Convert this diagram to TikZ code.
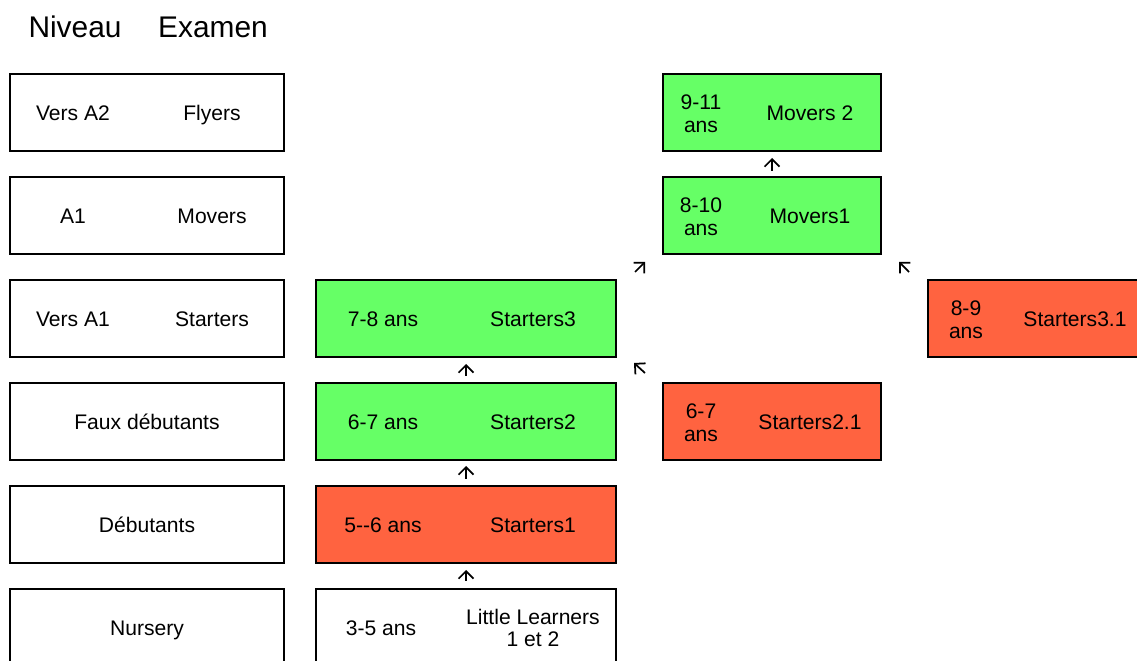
\documentclass[tikz,border=0pt]{standalone}
\usepackage{fontspec}
\setmainfont{Liberation Sans}
\usepackage{xcolor}
\usetikzlibrary{arrows.meta, calc}
\definecolor{vert}{RGB}{102,255,102}
\definecolor{rouge}{RGB}{255,99,64}

\begin{document}
\begin{tikzpicture}[x=0.2mm, y=-0.2mm,
  box/.style={draw, line width=0.4mm, inner sep=0pt, minimum height=15.4mm},
  lvl/.style={box, minimum width=54.8mm},
  grp/.style={box, minimum width=60mm},
  sub/.style={box, minimum width=43.6mm},
  txt/.style={anchor=base, align=center, font=\fontsize{12}{13}\selectfont},
  line/.style={-{Straight Barb[length=1.5mm, width=3mm]}, line width=0.35mm}]
\useasboundingbox (0,0) rectangle (1137,661);
\clip (0,0) rectangle (1137,661);
% titre
\node[txt, font=\fontsize{17}{20}\selectfont] (niv) at (75,37.5) {Niveau};
\node[txt, font=\fontsize{17}{20}\selectfont] (exa) at (213,37.5) {Examen};
% niveaux
\node[lvl] (fly) at (147,112.5) {};
\node[lvl] (mov) at (147,215.5) {};
\node[lvl] (sta) at (147,318.5) {};
\node[lvl] (faux) at (147,421.5) {};
\node[lvl] (deb) at (147,524.5) {};
\node[lvl] (nur) at (147,627.5) {};
\node[txt] (flyA) at (73,120.5) {Vers A2};
\node[txt] (flyB) at (212,120.5) {Flyers};
\node[txt] (movA) at (73,223.5) {A1};
\node[txt] (movB) at (212,223.5) {Movers};
\node[txt] (staA) at (73,326.5) {Vers A1};
\node[txt] (staB) at (212,326.5) {Starters};
\node[txt] (fauxA) at (147,429.5) {Faux débutants};
\node[txt] (debA) at (147,532.5) {Débutants};
\node[txt] (nurA) at (147,635.5) {Nursery};
% groupes
\node[grp, fill=vert] (s3) at (466,318.5) {};
\node[grp, fill=vert] (s2) at (466,421.5) {};
\node[grp, fill=rouge] (s1) at (466,524.5) {};
\node[grp] (ll) at (466,627.5) {};
\node[txt] (s3A) at (383,326.5) {7-8 ans};
\node[txt] (s3B) at (533,326.5) {Starters3};
\node[txt] (s2A) at (383,429.5) {6-7 ans};
\node[txt] (s2B) at (533,429.5) {Starters2};
\node[txt] (s1A) at (383,532.5) {5-{}-6 ans};
\node[txt] (s1B) at (533,532.5) {Starters1};
\node[txt] (llA) at (381,635.5) {3-5 ans};
\node[txt] (llB) at (533,647) {Little Learners\\1 et 2};
% suite
\node[sub, fill=vert] (m2) at (772,112.5) {};
\node[sub, fill=vert] (m1) at (772,215.5) {};
\node[sub, fill=rouge] (s21) at (772,421.5) {};
\node[sub, fill=rouge] (s31) at (1037,318.5) {};
\node[txt] (m2A) at (701,132.5) {9-11\\ans};
\node[txt] (m2B) at (810,120.5) {Movers 2};
\node[txt] (m1A) at (701,235.5) {8-10\\ans};
\node[txt] (m1B) at (810,223.5) {Movers1};
\node[txt] (s21A) at (701,441.5) {6-7\\ans};
\node[txt] (s21B) at (810,429.5) {Starters2.1};
\node[txt] (s31A) at (966,338.5) {8-9\\ans};
\node[txt] (s31B) at (1075,326.5) {Starters3.1};
% fleches
\draw[line, shorten <=1.4mm, shorten >=1.2mm] (ll) -- (s1);
\draw[line, shorten <=1.2mm, shorten >=1mm] (s1) -- (s2);
\draw[line, shorten <=1.2mm, shorten >=1.2mm] (s2) -- (s3);
\draw[line, shorten <=1mm, shorten >=1.2mm] (m1) -- (m2);
\draw[line] ($(s3.north east)+(18,-7)$) -- ($(m1.south west)+(-17,7)$);
\draw[line] ($(s31.north west)+(-18,-7)$) -- ($(m1.south east)+(17,7)$);
\draw[line] ($(s21.north west)+(-17,-9)$) -- ($(s3.south east)+(17,5)$);
\end{tikzpicture}
\end{document}
